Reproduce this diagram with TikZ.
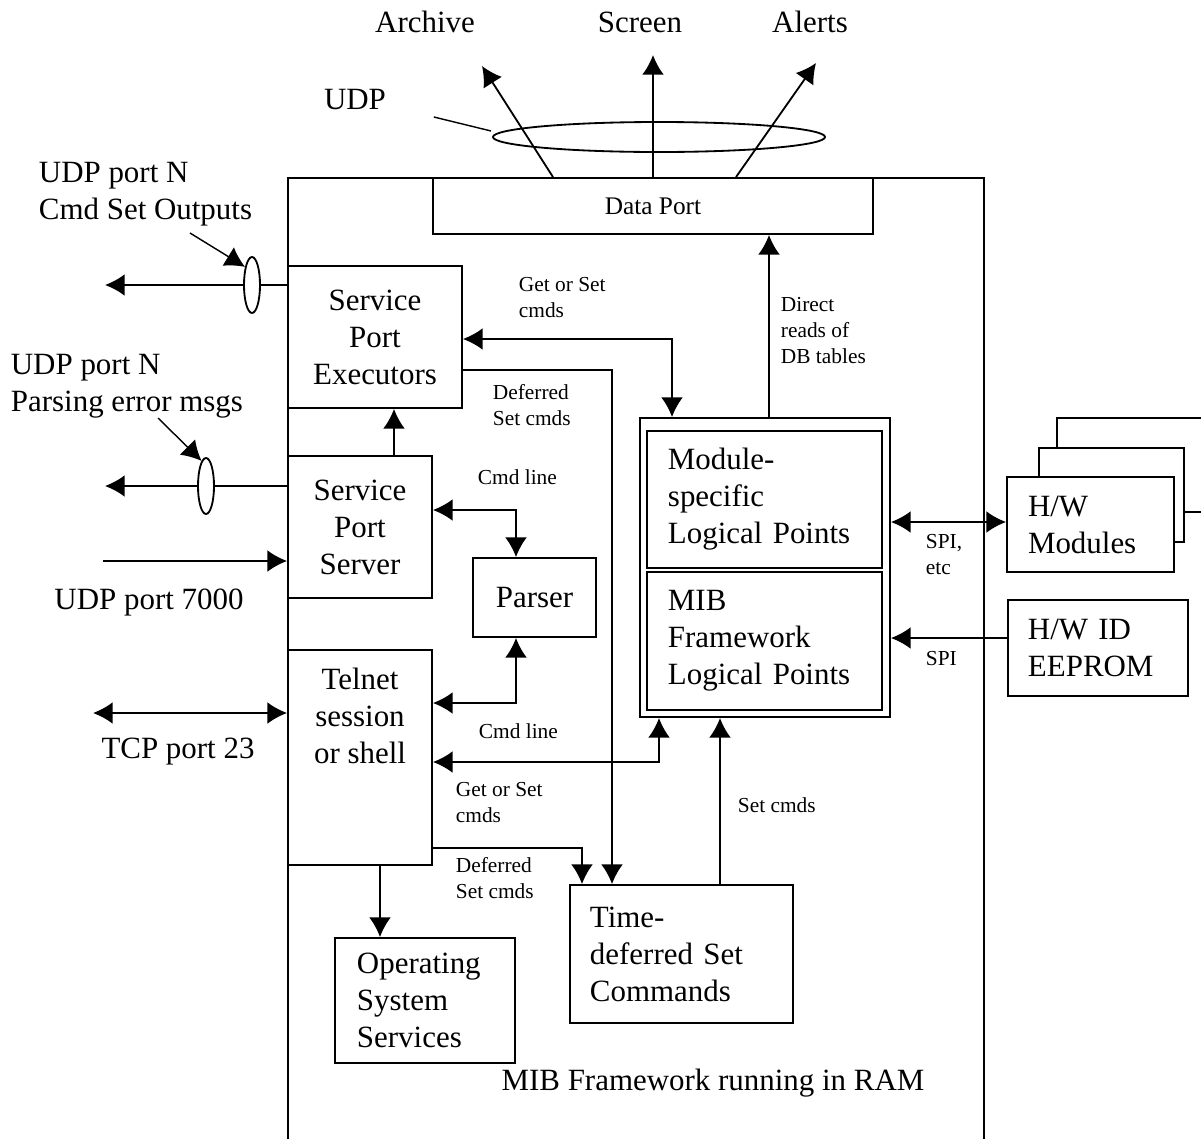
\documentclass[tikz,border=0pt]{standalone}
\usepackage{fontspec}
\setmainfont{Liberation Serif}
\usetikzlibrary{arrows.meta,shapes.geometric}

\begin{document}
\begin{tikzpicture}[x=0.025cm,y=-0.025cm,>={Latex[length=14pt,width=15.5pt]},line width=1.3pt,
	box/.style={draw,inner sep=0pt,align=center,font=\fontsize{22}{26.3}\selectfont},
	lbox/.style={draw,inner ysep=0pt,align=left,font=\fontsize{22}{26.3}\selectfont},
	big/.style={inner sep=0pt,font=\fontsize{22}{26.3}\selectfont},
	small/.style={inner sep=0pt,align=left,anchor=west,font=\fontsize{15.2}{18.5}\selectfont},
	ring/.style={draw,ellipse,inner sep=0pt}]

\useasboundingbox (0,0) rectangle (1201,1139);

% frame of the framework, open at the bottom
\draw (288,1139) -- (288,178) -- (984,178) -- (984,1139);

% boxes
\node[box,minimum width=11cm,minimum height=1.4cm,font=\fontsize{18}{21}\selectfont] (dataport) at (653,206) {Data Port};
\node[box,minimum width=4.35cm,minimum height=3.55cm] (spe) at (375,337) {Service\\Port\\Executors};
\node[box,minimum width=3.6cm,minimum height=3.55cm] (sps) at (360,527) {Service\\Port\\Server};
\node[box,minimum width=3.075cm,minimum height=1.975cm] (parser) at (534.5,597.5) {Parser};
\node[box,minimum width=3.6cm,minimum height=5.375cm] (telnet) at (360,757.5) {};
\node[big,align=center] (telnettext) at (360,716) {Telnet\\session\\or shell};
\node[box,minimum width=6.25cm,minimum height=7.475cm] (mib) at (765,567.5) {};
\node[lbox,minimum width=5.875cm,minimum height=3.425cm,inner xsep=0.525cm,text width=4.825cm] (modpts) at (764.5,499.5) {Module-\\specific\\Logical Points};
\node[lbox,minimum width=5.875cm,minimum height=3.45cm,inner xsep=0.525cm,text width=4.825cm] (mibpts) at (764.5,641) {MIB\\Framework\\Logical Points};
\node[lbox,minimum width=4.5cm,minimum height=3.125cm,inner xsep=0.55cm,text width=3.4cm] (os) at (425,1000.5) {Operating\\System\\Services};
\node[lbox,minimum width=5.575cm,minimum height=3.45cm,inner xsep=0.5cm,text width=4.575cm] (timedef) at (681.5,954) {Time-\\deferred Set\\Commands};

% hardware
\node[box,minimum width=3.95cm,minimum height=2.35cm] (hwmod3) at (1136,465) {};
\node[box,fill=white,minimum width=3.625cm,minimum height=2.35cm] (hwmod2) at (1111.5,495) {};
\node[lbox,fill=white,minimum width=4.175cm,minimum height=2.375cm,inner xsep=0.525cm,text width=3.125cm] (hwmod) at (1090.5,524.5) {H/W\\Modules};
\node[lbox,minimum width=4.5cm,minimum height=2.4cm,inner xsep=0.5cm,text width=3.5cm] (eeprom) at (1098,648) {H/W ID\\EEPROM};

% outside labels
\node[big] (archive) at (425,22) {Archive};
\node[big] (screen) at (640,22) {Screen};
\node[big] (alerts) at (810,22) {Alerts};
\node[big] (udp) at (355,100) {UDP};
\node[big,align=left,anchor=west] (cmdout) at (38,194) {UDP port N\\Cmd Set Outputs};
\node[big,align=left,anchor=west] (parseerr) at (10,386) {UDP port N\\Parsing error msgs};
\node[big] (udp7000) at (149,602) {UDP port 7000};
\node[big] (tcp23) at (178,752) {TCP port 23};
\node[big] (ram) at (713,1083) {MIB Framework running in RAM};

\coordinate (archtip) at (482,66);
\coordinate (scrtip) at (653,55);
\coordinate (alrtip) at (816,63);
\coordinate (out1) at (105,285);
\coordinate (out2) at (105,486);
\coordinate (in7000) at (103,561);
\coordinate (tcpend) at (93,713);
\coordinate (p1) at (190,233);
\coordinate (p2) at (158,418);

% data port outputs
\draw[->] (dataport.north -| 553,0) -- (archtip);
\draw[->] (dataport.north -| 653,0) -- (scrtip);
\draw[->] (dataport.north -| 736,0) -- (alrtip);
\node[ring,minimum width=8.3cm,minimum height=0.75cm] (udpring) at (659,137) {};
\draw[line width=1pt] ([shift={(47,17)}]udp.east) -- ([shift={(-1,-6)}]udpring.west);

% service port
\draw[->] (spe.west |- 0,285) -- (out1);
\node[ring,fill=white,minimum width=0.4cm,minimum height=1.4cm] (ring1) at (252,285) {};
\draw[->,line width=1pt] (p1) -- (ring1.111);
\draw[->] (sps.west |- 0,486) -- (out2);
\node[ring,fill=white,minimum width=0.4cm,minimum height=1.4cm] (ring2) at (206,486) {};
\draw[->,line width=1pt] (p2) -- (ring2.100);
\draw[->] (in7000) -- (sps.west |- 0,561);
\draw[<->] (tcpend) -- (telnet.west |- 0,713);
\draw[->] (sps.north -| 394,0) -- (spe.south -| 394,0);

% commands
\draw[<->] (spe.east |- 0,339) -| (mib.north -| 672,0);
\draw[->] (spe.east |- 0,370) -| (timedef.north -| 612,0);
\draw[<->] (sps.east |- 0,510) -| (parser.north -| 516,0);
\draw[<->] (telnet.east |- 0,703) -| (parser.south -| 516,0);
\draw[<->] (telnet.east |- 0,762) -| (mib.south -| 659,0);
\draw[->] (telnet.east |- 0,848) -| (timedef.north -| 582,0);
\draw[->] (telnet.south -| 380,0) -- (os.north -| 380,0);
\draw[->] (timedef.north -| 720,0) -- (mib.south -| 720,0);
\draw[->] (mib.north -| 769,0) -- (dataport.south -| 769,0);
\draw[<->] (mib.east |- 0,522) -- (hwmod.west |- 0,522);
\draw[->] (eeprom.west |- 0,638) -- (mib.east |- 0,638);

% connector labels
\node[small] (l1) at (518,298) {Get or Set\\cmds};
\node[small] (l2) at (492,405) {Deferred\\Set cmds};
\node[small] (l3) at (780,331) {Direct\\reads of\\DB tables};
\node[small] (l4) at (477,477) {Cmd line};
\node[small] (l5) at (478,731) {Cmd line};
\node[small] (l6) at (455,803) {Get or Set\\cmds};
\node[small] (l7) at (455,878) {Deferred\\Set cmds};
\node[small] (l8) at (737,805) {Set cmds};
\node[small] (l9) at (925,555) {SPI,\\etc};
\node[small] (l10) at (925,659) {SPI};

\end{tikzpicture}
\end{document}
